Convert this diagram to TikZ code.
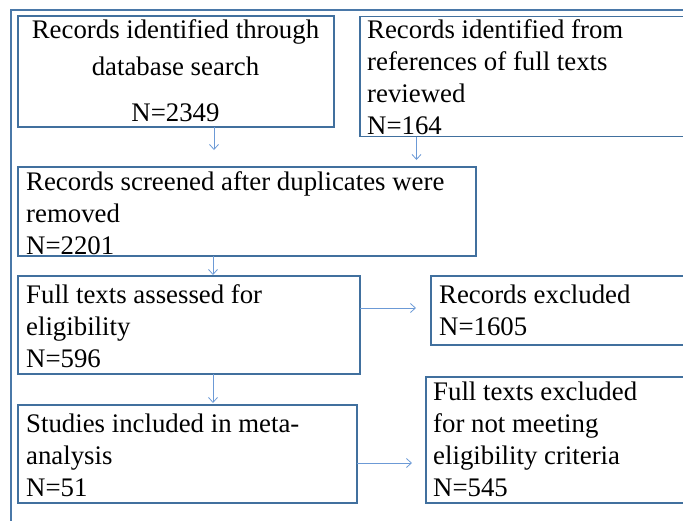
\documentclass[tikz,border=0pt]{standalone}
\usepackage{fontspec}
\setmainfont{Liberation Serif}
\usetikzlibrary{arrows.meta}
\definecolor{boxc}{HTML}{41709E}
\definecolor{framec}{HTML}{4A78A8}
\definecolor{arrc}{HTML}{6C9AD6}
\begin{document}
\begin{tikzpicture}[x=1pt,y=-1pt,
  box/.style={draw=boxc, line width=1.8pt, anchor=north west, inner sep=0pt, outer sep=0pt},
  txt/.style={anchor=north west, align=left, inner sep=0pt, font=\fontsize{26.8}{32}\selectfont},
  arr/.style={draw=arrc, line width=0.8pt, -{Straight Barb[length=5pt,width=9pt,line width=0.8pt]}}]
\useasboundingbox (0,0) rectangle (683,520);
\clip (0,0) rectangle (683,520);
% outer frame
\draw[draw=framec, line width=1.8pt] (11,10) rectangle (720,560);
% boxes
\node[box, minimum width=316pt, minimum height=111pt] (b1) at (18,16) {};
\node[box, minimum width=340pt, minimum height=120pt] (b2) at (360,16.5) {};
\node[box, minimum width=458pt, minimum height=89pt] (b3) at (18,167) {};
\node[box, minimum width=342pt, minimum height=98pt] (b4) at (18,276) {};
\node[box, minimum width=280pt, minimum height=69pt] (b5) at (431,276) {};
\node[box, minimum width=339pt, minimum height=98pt] (b6) at (18,405) {};
\node[box, minimum width=280pt, minimum height=126pt] (b7) at (426,377) {};
% texts
\node[txt, anchor=north, align=center] (t1) at (175.5,19) {Records identified through\\[5pt]database search\\[14pt]N=2349};
\node[txt] (t2) at (367,19.5) {Records identified from\\references of full texts\\reviewed\\N=164};
\node[txt] (t3) at (26,171.5) {Records screened after duplicates were\\removed\\N=2201};
\node[txt] (t4) at (26,284.5) {Full texts assessed for\\eligibility\\N=596};
\node[txt] (t5) at (439,284.5) {Records excluded\\N=1605};
\node[txt] (t6) at (26,413.5) {Studies included in meta-\\analysis\\N=51};
\node[txt] (t7) at (433,381.5) {Full texts excluded\\for not meeting\\eligibility criteria\\N=545};
% connector end points
\coordinate (a1) at (214,150);
\coordinate (a2) at (416.5,160);
\coordinate (a3) at (213,275);
\coordinate (a4) at (416,308);
\coordinate (a5) at (213,403);
\coordinate (a6) at (412,463);
\draw[arr] (b1.south west -| a1) -- (a1);
\draw[arr] (b2.south west -| a2) -- (a2);
\draw[arr] (b3.south west -| a3) -- (a3);
\draw[arr] (b4.north east |- a4) -- (a4);
\draw[arr] (b4.south west -| a5) -- (a5);
\draw[arr] (b6.north east |- a6) -- (a6);
\end{tikzpicture}
\end{document}
